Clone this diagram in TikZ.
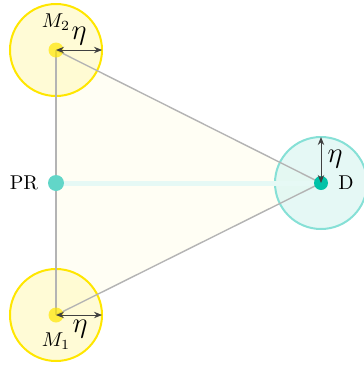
\documentclass[tikz,border=0pt]{standalone}
\usetikzlibrary{arrows.meta}
\definecolor{myyel}{HTML}{FFE600}
\definecolor{yelfill}{HTML}{FFFAC8}
\definecolor{tealfill}{HTML}{DCF6F2}
\definecolor{tealline}{HTML}{86E0D6}
\definecolor{teal1}{HTML}{62D6C8}
\definecolor{teal2}{HTML}{00C2A8}
\definecolor{trifill}{HTML}{FFFEF4}
\definecolor{beam}{HTML}{E6F9F5}
\definecolor{edgegray}{HTML}{B4B4B4}
\begin{document}
\begin{tikzpicture}[x=0.5pt,y=-0.5pt,
  zone/.style={circle,minimum size=46pt,inner sep=0pt,line width=1pt,fill opacity=0.75},
  dotnode/.style={circle,inner sep=0pt,minimum size=#1*0.5pt},
  edge/.style={draw=edgegray,line width=0.7pt},
  radarrow/.style={{Stealth[length=4pt,width=3.2pt]}-{Stealth[length=4pt,width=3.2pt]},draw=black!75,line width=0.5pt},
  etalabel/.style={font=\Large}]
\useasboundingbox (0,0) rectangle (364,365);
\coordinate (M2) at (56,50);
\coordinate (M1) at (56,315);
\coordinate (D) at (321,183);
\coordinate (P) at (56,183);
% triangle
\fill[trifill] (M1) -- (M2) -- (D) -- cycle;
% zones
\node[zone,draw=myyel,fill=yelfill] (Z2) at (M2) {};
\node[zone,draw=myyel,fill=yelfill] (Z1) at (M1) {};
\node[zone,draw=tealline,fill=tealfill] (ZD) at (D) {};
\draw[draw=beam,line width=2.5pt] (P) -- (D);
\draw[edge] (M1) -- (M2);
\draw[edge] (M2) -- (D);
\draw[edge] (M1) -- (D);
% dots
\node[dotnode=15,fill=myyel,opacity=0.7] (m2) at (M2) {};
\node[dotnode=15,fill=myyel,opacity=0.7] (m1) at (M1) {};
\node[dotnode=16,fill=teal1] (pr) at (P) {};
\node[dotnode=14,fill=teal2] (d) at (D) {};
% radius arrows
\coordinate (R2) at (102,50);
\coordinate (R1) at (102,315);
\coordinate (RD) at (321,137);
\draw[radarrow] (M2) -- (R2);
\draw[radarrow] (M1) -- (R1);
\draw[radarrow] (D) -- (RD);
\node[etalabel] (e2) at (79,36) {$\eta$};
\node[etalabel] (e1) at (80,329) {$\eta$};
\node[etalabel] (ed) at (335,159) {$\eta$};
% labels
\node (l2) at (56,22) {$M_2$};
\node (l1) at (56,341) {$M_1$};
\node (lp) at (24,183) {PR};
\node (ld) at (346,183) {D};
\end{tikzpicture}
\end{document}
